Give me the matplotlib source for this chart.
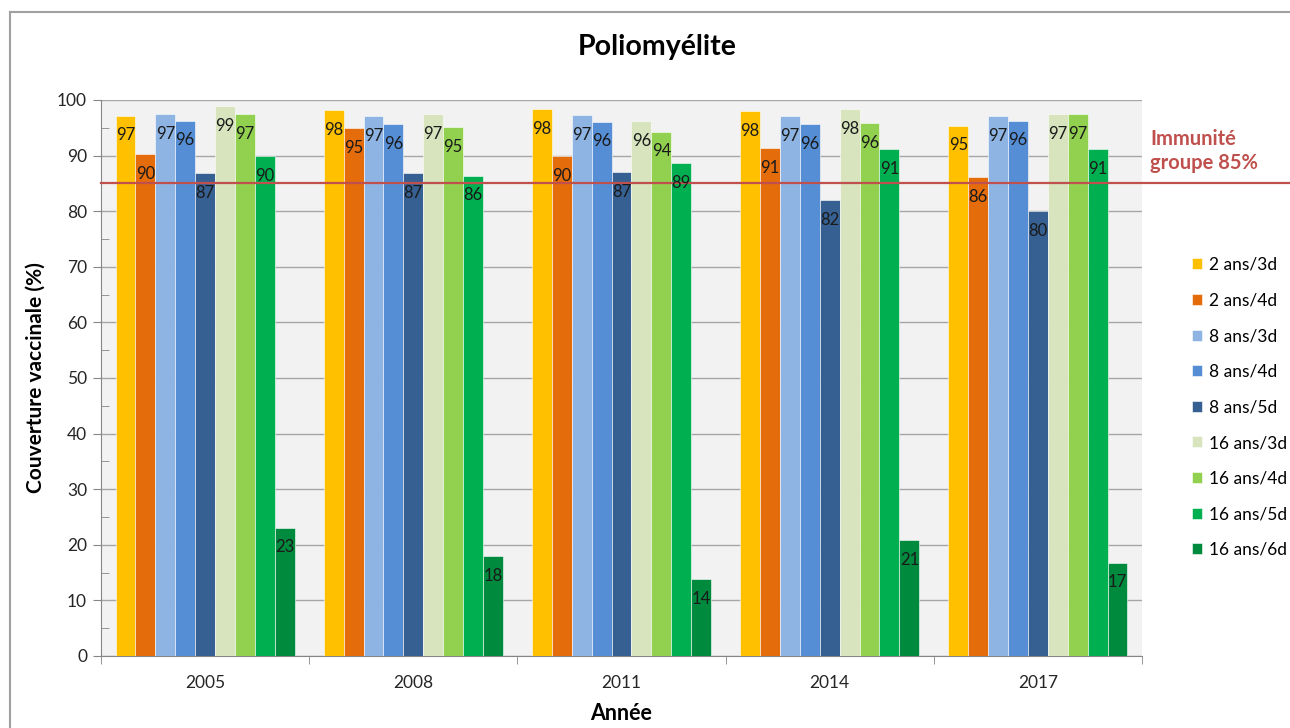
import matplotlib
matplotlib.use("Agg")
import matplotlib.pyplot as plt
import numpy as np
from matplotlib.lines import Line2D
from matplotlib.ticker import MultipleLocator

plt.rcParams['font.family'] = ['Lato', 'DejaVu Sans']

years = ["2005", "2008", "2011", "2014", "2017"]
series = ["2 ans/3d", "2 ans/4d", "8 ans/3d", "8 ans/4d", "8 ans/5d",
          "16 ans/3d", "16 ans/4d", "16 ans/5d", "16 ans/6d"]
colors = ["#FFC000", "#E46C0A", "#8EB4E3", "#558ED5", "#366092",
          "#D7E4BD", "#92D050", "#00B050", "#008A3E"]

# couverture par série, une valeur par année
v_2a3d = [97.2, 98.2, 98.4, 98.0, 95.4]
v_2a4d = [90.3, 94.9, 89.9, 91.3, 86.2]
v_8a3d = [97.4, 97.1, 97.3, 97.1, 97.1]
v_8a4d = [96.3, 95.6, 96.1, 95.7, 96.3]
v_8a5d = [86.8, 86.8, 87.1, 82.0, 80.0]
v_16a3d = [98.9, 97.4, 96.2, 98.3, 97.4]
v_16a4d = [97.4, 95.1, 94.3, 95.8, 97.4]
v_16a5d = [89.9, 86.4, 88.7, 91.1, 91.2]
v_16a6d = [23.1, 18.0, 13.8, 20.9, 16.8]
values = [v_2a3d, v_2a4d, v_8a3d, v_8a4d, v_8a5d, v_16a3d, v_16a4d, v_16a5d, v_16a6d]

seuil = 85

W, H = 1290, 728
fig = plt.figure(figsize=(W / 100, H / 100), dpi=100)
ax = fig.add_axes([101 / W, (H - 656) / H, 1041 / W, 556 / H])
ax.set_facecolor("#F2F2F2")

x = np.arange(len(years))
bw = 0.0956
for i, (name, vals) in enumerate(zip(series, values)):
    pos = x + (i - 4) * bw
    bars = ax.bar(pos, vals, width=bw, color=colors[i], label=name,
                  edgecolor="white", linewidth=0.4, zorder=3)
    for b, v in zip(bars, vals):
        ax.annotate("%d" % round(v), (b.get_x() + b.get_width() / 2, v),
                    xytext=(0, -8.5), textcoords="offset points",
                    ha="center", va="top", fontsize=12, color="#1a1a1a", zorder=5)

ax.set_xlim(-0.5, len(years) - 0.5)
ax.set_ylim(0, 100)
ax.yaxis.set_major_locator(MultipleLocator(10))
ax.yaxis.set_minor_locator(MultipleLocator(5))
ax.grid(axis="y", which="major", color="#A6A6A6", linewidth=1, zorder=0)
ax.set_axisbelow(True)

ax.set_xticks(x)
ax.set_xticklabels(years)
ax.set_xticks(np.arange(-0.5, len(years)), minor=True)
ax.tick_params(axis="x", which="major", length=0, pad=14, labelsize=12.5, labelcolor="#262626")
ax.tick_params(axis="x", which="minor", length=6, color="#868686", direction="out")
ax.tick_params(axis="y", which="major", length=6, color="#868686", direction="out",
               labelsize=12.5, labelcolor="#262626", pad=4)
ax.tick_params(axis="y", which="minor", length=6, color="#868686", direction="in")

for s in ["top", "right"]:
    ax.spines[s].set_visible(False)
for s in ["left", "bottom"]:
    ax.spines[s].set_color("#868686")

# ligne de seuil jusqu'au bord droit de la figure
ax.axhline(seuil, xmin=0, xmax=(W - 101) / 1041, color="#C0504D", linewidth=1.6,
           zorder=4, clip_on=False)
fig.text(1150 / W, 1 - 151 / H, "Immunité\ngroupe 85%", color="#C0504D",
         fontsize=14.5, fontweight="bold", ha="left", va="center", linespacing=1.3)

ax.set_ylabel("Couverture vaccinale (%)", fontsize=15, fontweight="bold", labelpad=8)
fig.text(621 / W, 1 - 714 / H, "Année", fontsize=15.5, fontweight="bold",
         ha="center", va="center")
fig.text(657 / W, 1 - 47 / H, "Poliomyélite", fontsize=20.5, fontweight="bold",
         ha="center", va="center")

leg = fig.legend(loc="upper left", bbox_to_anchor=(1185 / W, 1 - 250 / H),
                 frameon=False, fontsize=12.5, handlelength=0.6, handleheight=0.6,
                 handletextpad=0.4, labelspacing=1.13, borderaxespad=0)

# cadre extérieur du graphique
fig.add_artist(Line2D([10 / W, 10 / W], [0, 1 - 12 / H], color="#A0A0A0", linewidth=1.5))
fig.add_artist(Line2D([10 / W, 1], [1 - 12 / H, 1 - 12 / H], color="#A0A0A0", linewidth=1.5))

fig.savefig("out.png", dpi=100)
